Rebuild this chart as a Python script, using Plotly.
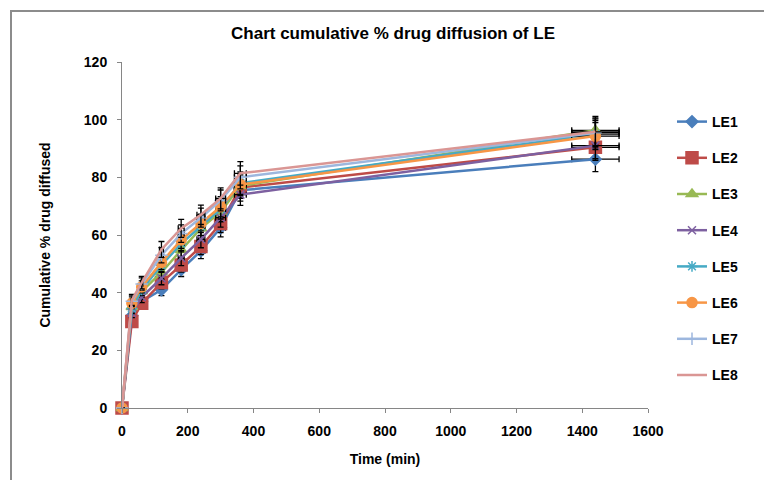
import plotly.graph_objects as go

time_min = [0, 30, 60, 120, 180, 240, 300, 360, 1440]

series_names = ["LE1", "LE2", "LE3", "LE4", "LE5", "LE6", "LE7", "LE8"]
le1 = [0, 32.0, 37.0, 41.0, 48.0, 54.5, 62.5, 75.5, 86.3]
le2 = [0, 30.0, 36.3, 43.5, 49.6, 56.0, 64.0, 76.5, 90.4]
le3 = [0, 35.0, 40.5, 47.0, 54.8, 62.3, 68.0, 77.0, 96.3]
le4 = [0, 33.0, 38.5, 45.0, 52.0, 58.5, 66.0, 74.0, 91.0]
le5 = [0, 34.5, 41.0, 49.5, 57.0, 63.0, 69.0, 78.0, 95.0]
le6 = [0, 36.3, 42.0, 50.5, 58.3, 64.0, 69.8, 77.5, 94.3]
le7 = [0, 37.0, 43.0, 53.0, 60.5, 66.0, 72.0, 80.0, 95.5]
le8 = [0, 37.5, 43.5, 55.0, 62.3, 67.0, 72.7, 81.4, 95.8]
series_values = [le1, le2, le3, le4, le5, le6, le7, le8]

error_percent = 5

x_ticks = [0, 200, 400, 600, 800, 1000, 1200, 1400, 1600]
y_ticks = [0, 20, 40, 60, 80, 100, 120]

colors = ["#4A7EBB", "#BE4B48", "#98B954", "#7D60A0", "#46AAC5", "#F79646", "#9DB7DE", "#DA9694"]
symbols = ["diamond", "square", "triangle-up", "x-thin-open", "asterisk-open", "circle", "cross-thin-open", None]
sizes = [9, 12, 10, 8, 9, 10, 9, 0]

FONT = "Liberation Sans, Arial, sans-serif"

def bfont(size):
    return dict(size=size, family=FONT, color="black", weight="bold")

fig = go.Figure()
for i, (name, vals) in enumerate(zip(series_names, series_values)):
    mk = dict(color=colors[i], size=sizes[i], line=dict(color=colors[i], width=1.5))
    if symbols[i] is None:
        mode = "lines"
    else:
        mode = "lines+markers"
        mk["symbol"] = symbols[i]
    fig.add_trace(go.Scatter(
        x=time_min, y=vals, name=name, mode=mode,
        line=dict(color=colors[i], width=2.5),
        marker=mk,
        legendgroup=name,
        cliponaxis=False,
        error_y=dict(type="percent", value=error_percent, color="black", thickness=1.3, width=3),
        error_x=dict(type="percent", value=error_percent, color="black", thickness=1.3, width=3),
    ))

W, H = 764, 480
L, R, T, B = 122, 116, 62, 72
pw, ph = W - L - R, H - T - B

def px_x(p):
    return (p - L) / pw

def px_y(p):
    return (H - B - p) / ph

fig.add_shape(type="rect", xref="paper", yref="paper",
              x0=px_x(11), x1=px_x(775), y0=px_y(495), y1=px_y(11),
              line=dict(color="#8C8C8C", width=2), fillcolor="rgba(0,0,0,0)", layer="below")

fig.update_layout(
    width=W, height=H,
    margin=dict(l=L, r=R, t=T, b=B),
    paper_bgcolor="white", plot_bgcolor="white",
    font=dict(family=FONT, color="black"),
    title=dict(text="Chart cumulative % drug diffusion of LE",
               x=393 / W, xanchor="center", xref="container",
               y=1 - 33 / H, yanchor="middle", yref="container",
               font=bfont(17)),
    showlegend=True,
    legend=dict(x=px_x(672), xanchor="left", y=px_y(106), yanchor="top",
                font=bfont(14),
                tracegroupgap=15, itemwidth=30, bgcolor="rgba(0,0,0,0)"),
    xaxis=dict(range=[0, 1600], tickvals=x_ticks,
               showgrid=False, zeroline=False, showline=True, linecolor="#868686", linewidth=1,
               ticks="outside", ticklen=4, tickcolor="#868686", ticklabelstandoff=6,
               tickfont=bfont(14),
               title=dict(text="Time (min)", font=bfont(14), standoff=16)),
    yaxis=dict(range=[0, 120], tickvals=y_ticks,
               showgrid=False, zeroline=False, showline=True, linecolor="#868686", linewidth=1,
               ticks="outside", ticklen=4, tickcolor="#868686", ticklabelstandoff=7,
               tickfont=bfont(14),
               title=dict(text="Cumulative % drug diffused", font=bfont(14), standoff=29)),
)

fig.write_html("out.html")
